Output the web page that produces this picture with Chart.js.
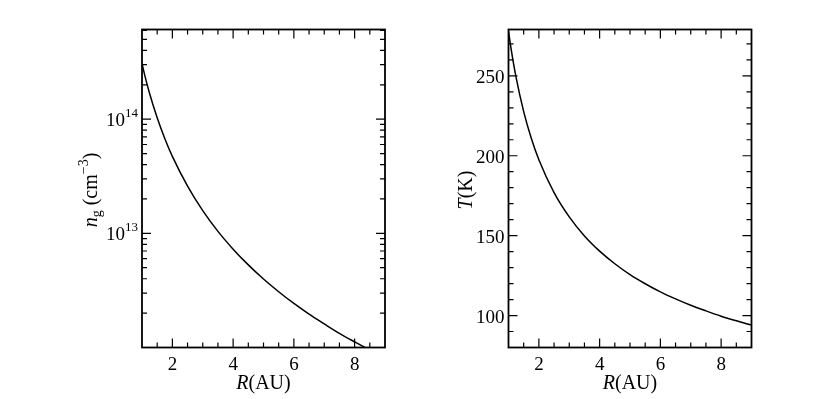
<!DOCTYPE html>
<html>
<head>
<meta charset="utf-8">
<script src="https://cdn.jsdelivr.net/npm/chart.js@4.4.0/dist/chart.umd.min.js"></script>
<style>
  body { margin: 0; background: #fff; }
  .panel { position: absolute; top: 0; width: 415px; height: 399px; }
</style>
</head>
<body>
<div class="panel" style="left:0"><canvas id="ng_plot" width="415" height="399"></canvas></div>
<div class="panel" style="left:415px"><canvas id="temp_plot" width="415" height="399"></canvas></div>
<script>
// radius in AU and the two profiles
radius = [1, 1.1, 1.25, 1.5, 1.75, 2, 2.5, 3, 3.5, 4, 4.5, 5, 5.5, 6, 6.5, 7, 7.5, 8, 8.5, 9]
ngVals = [3.07e14, 2.37e14, 1.68e14, 1.03e14, 6.78e13, 4.72e13, 2.59e13, 1.58e13, 1.04e13, 7.27e12,
          5.29e12, 3.98e12, 3.08e12, 2.43e12, 1.96e12, 1.61e12, 1.33e12, 1.12e12, 9.5e11, 8.2e11]
tempVals = [278, 265.2, 249.0, 227.6, 210.9, 197.5, 176.9, 161.7, 149.8, 140.3,
            132.4, 125.6, 119.9, 114.8, 110.4, 106.4, 102.9, 99.6, 96.7, 94.0]

// tick values
xMajor = [2, 4, 6, 8]
xMinor = [1.5, 2.5, 3, 3.5, 4.5, 5, 5.5, 6.5, 7, 7.5, 8.5]
tempMajor = [100, 150, 200, 250]
tempMinor = [90, 110, 120, 130, 140, 160, 170, 180, 190, 210, 220, 230, 240, 260, 270]
ngDecades = [13, 14]
ngMinor = []
for (var e = 12; e <= 14; e++) {
  for (var m = 2; m <= 9; m++) {
    if (m * Math.pow(10, e) < 6.1e14) ngMinor.push(m * Math.pow(10, e));
  }
}

serif = "'Liberation Serif', 'DejaVu Serif', serif"

function fontOf(p) {
  return (p.it ? 'italic ' : '') + p.s + 'px ' + serif;
}

function drawParts(ctx, parts, x, y, align) {
  var w = 0;
  parts.forEach(p => { ctx.font = fontOf(p); w += ctx.measureText(p.t).width; });
  var cx = align === 'right' ? x - w : (align === 'center' ? x - w / 2 : x);
  parts.forEach(p => {
    ctx.font = fontOf(p);
    ctx.fillText(p.t, cx, y + (p.dy || 0));
    cx += ctx.measureText(p.t).width;
  });
}

// frame, inward ticks on all sides, tick labels and axis titles
framePlugin = {
  id: 'frame',
  afterDraw(chart) {
    var o = chart.options.plugins.frame;
    var ctx = chart.ctx;
    var a = chart.chartArea;
    var xs = chart.scales.x, ys = chart.scales.y;
    ctx.save();
    ctx.strokeStyle = '#000';
    ctx.fillStyle = '#000';
    ctx.lineWidth = 1.2;
    ctx.beginPath();
    function xt(v, len) {
      var px = xs.getPixelForValue(v);
      ctx.moveTo(px, a.bottom); ctx.lineTo(px, a.bottom - len);
      ctx.moveTo(px, a.top); ctx.lineTo(px, a.top + len);
    }
    function yt(v, len) {
      var py = ys.getPixelForValue(v);
      ctx.moveTo(a.left, py); ctx.lineTo(a.left + len, py);
      ctx.moveTo(a.right, py); ctx.lineTo(a.right - len, py);
    }
    xMajor.forEach(v => xt(v, 9));
    xMinor.forEach(v => xt(v, 5));
    o.yMajor.forEach(v => yt(v, 9));
    o.yMinor.forEach(v => yt(v, 5));
    ctx.stroke();

    ctx.lineWidth = 1.8;
    ctx.strokeRect(a.left, a.top, a.right - a.left, a.bottom - a.top);

    ctx.textBaseline = 'alphabetic';
    xMajor.forEach(v => {
      drawParts(ctx, [{ t: String(v), s: 19 }], xs.getPixelForValue(v), 370, 'center');
    });
    o.yMajor.forEach((v, i) => {
      drawParts(ctx, o.yLabels[i], a.left - 4, ys.getPixelForValue(v) + 7, 'right');
    });

    drawParts(ctx, [{ t: 'R', s: 20, it: true }, { t: '(AU)', s: 20 }], (a.left + a.right) / 2, 389, 'center');

    ctx.translate(o.titleX, 190);
    ctx.rotate(-Math.PI / 2);
    drawParts(ctx, o.yTitle, 0, 0, 'center');
    ctx.restore();
  }
}

function points(vals) {
  return radius.map((r, i) => ({ x: r, y: vals[i] }));
}

ngConfig = {
  type: 'line',
  data: {
    datasets: [{
      data: points(ngVals),
      borderColor: '#000',
      borderWidth: 1.5,
      pointRadius: 0,
      cubicInterpolationMode: 'monotone'
    }]
  },
  options: {
    responsive: false,
    animation: false,
    layout: { padding: { left: 142, right: 30, top: 29.5, bottom: 51.5 } },
    scales: {
      x: { type: 'linear', min: 1, max: 9, display: false },
      y: { type: 'logarithmic', min: 1e12, max: 6.1e14, display: false }
    },
    plugins: {
      legend: { display: false },
      tooltip: { enabled: false },
      frame: {
        yMajor: ngDecades.map(d => Math.pow(10, d)),
        yMinor: ngMinor,
        yLabels: ngDecades.map(d => [{ t: '10', s: 19 }, { t: String(d), s: 13, dy: -9 }]),
        titleX: 97,
        yTitle: [
          { t: 'n', s: 20, it: true }, { t: 'g', s: 14, dy: 4 },
          { t: ' (cm', s: 20 }, { t: '\u22123', s: 14, dy: -9 }, { t: ')', s: 20 }
        ]
      }
    }
  },
  plugins: [framePlugin]
}

tempConfig = {
  type: 'line',
  data: {
    datasets: [{
      data: points(tempVals),
      borderColor: '#000',
      borderWidth: 1.5,
      pointRadius: 0,
      cubicInterpolationMode: 'monotone'
    }]
  },
  options: {
    responsive: false,
    animation: false,
    layout: { padding: { left: 93.5, right: 78.5, top: 29.5, bottom: 51.5 } },
    scales: {
      x: { type: 'linear', min: 1, max: 9, display: false },
      y: { type: 'linear', min: 80, max: 279, display: false }
    },
    plugins: {
      legend: { display: false },
      tooltip: { enabled: false },
      frame: {
        yMajor: tempMajor,
        yMinor: tempMinor,
        yLabels: tempMajor.map(v => [{ t: String(v), s: 19 }]),
        titleX: 472 - 415,
        yTitle: [{ t: 'T', s: 20, it: true }, { t: '(K)', s: 20 }]
      }
    }
  },
  plugins: [framePlugin]
}

new Chart(document.getElementById('ng_plot'), ngConfig)
new Chart(document.getElementById('temp_plot'), tempConfig)
</script>
</body>
</html>
